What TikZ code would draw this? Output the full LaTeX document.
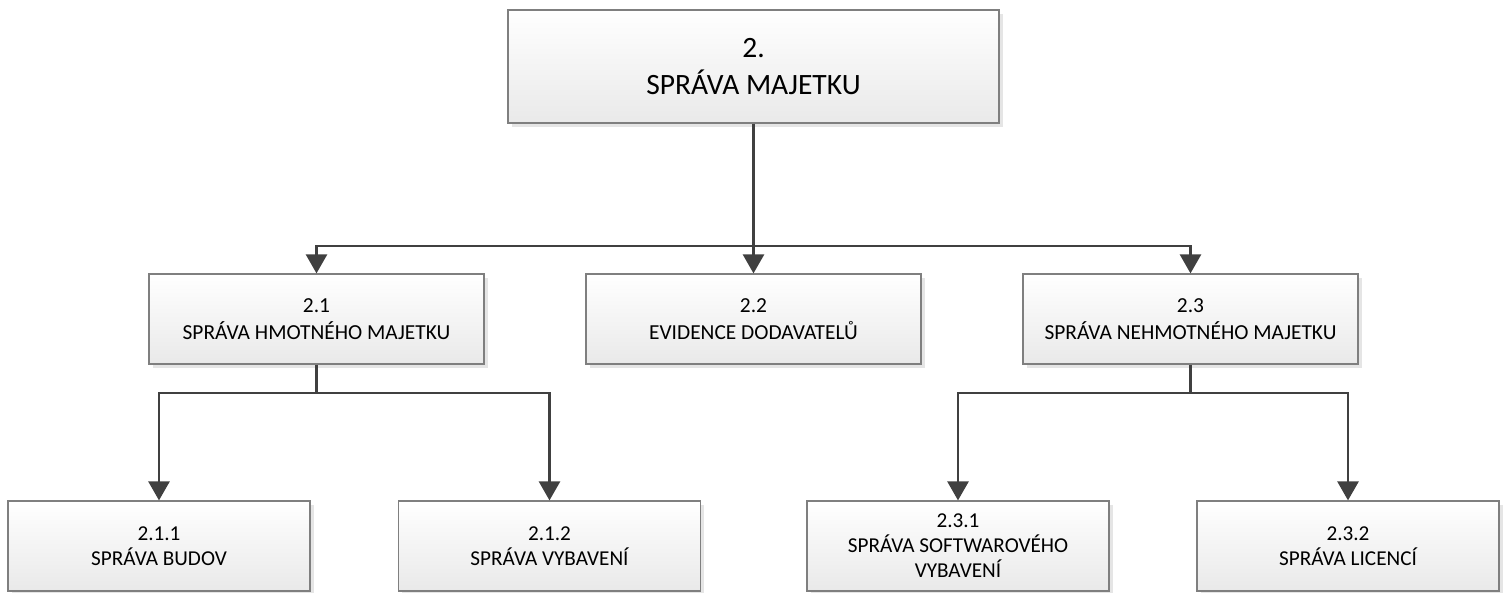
\documentclass[tikz,border=0pt]{standalone}
\usepackage{fontspec}
\setmainfont{Carlito}
\usetikzlibrary{arrows.meta,shadows}
\definecolor{boxline}{HTML}{7F7F7F}
\definecolor{boxbottom}{HTML}{E9E9E9}
\definecolor{conncol}{HTML}{404040}
\tikzset{
  box/.style={rectangle, draw=boxline, line width=0.6pt, top color=white, bottom color=boxbottom,
    align=center, inner sep=0pt, text=black,
    general shadow={shadow xshift=1.8pt, shadow yshift=-1.8pt, fill=black!10}},
  rootbox/.style={box, minimum width=245.5pt, minimum height=56.5pt, font=\fontsize{14.75}{18.5}\selectfont},
  midbox/.style={box, minimum width=167.5pt, minimum height=45pt, font=\fontsize{10.7}{13.5}\selectfont},
  leafbox/.style={box, minimum width=151pt, minimum height=45pt, font=\fontsize{10.6}{12.5}\selectfont},
  conn/.style={draw=conncol, line width=1.3pt},
  arr/.style={conn, -{Triangle[width=10.5pt,length=9.5pt]}}
}
\begin{document}
\begin{tikzpicture}[x=0.5pt,y=-0.5pt]
\useasboundingbox (0,0) rectangle (1511,593);
% top level
\node[rootbox] (root) at (753.5,66.5) {2.\\SPRÁVA MAJETKU};
% second level
\node[midbox] (n21) at (316.5,319) {2.1\\SPRÁVA HMOTNÉHO MAJETKU};
\node[midbox] (n22) at (753.5,319) {2.2\\EVIDENCE DODAVATELŮ};
\node[midbox] (n23) at (1190.5,319) {2.3\\SPRÁVA NEHMOTNÉHO MAJETKU};
% third level
\node[leafbox] (n211) at (159,546) {2.1.1\\SPRÁVA BUDOV};
\node[leafbox] (n212) at (549.5,546) {2.1.2\\SPRÁVA VYBAVENÍ};
\node[leafbox] (n231) at (958,546) {2.3.1\\SPRÁVA SOFTWAROVÉHO\\VYBAVENÍ};
\node[leafbox] (n232) at (1348,546) {2.3.2\\SPRÁVA LICENCÍ};
% branch points
\coordinate (j0) at (753.5,246);
\coordinate (j1) at (316.5,393);
\coordinate (j3) at (1190.5,393);
% connectors
\draw[conn] (root.south) -- (j0);
\draw[arr] (j0) -| (n21.north);
\draw[arr] (j0) -- (n22.north);
\draw[arr] (j0) -| (n23.north);
\draw[conn] (n21.south) -- (j1);
\draw[arr] (j1) -| (n211.north);
\draw[arr] (j1) -| (n212.north);
\draw[conn] (n23.south) -- (j3);
\draw[arr] (j3) -| (n231.north);
\draw[arr] (j3) -| (n232.north);
\end{tikzpicture}
\end{document}
